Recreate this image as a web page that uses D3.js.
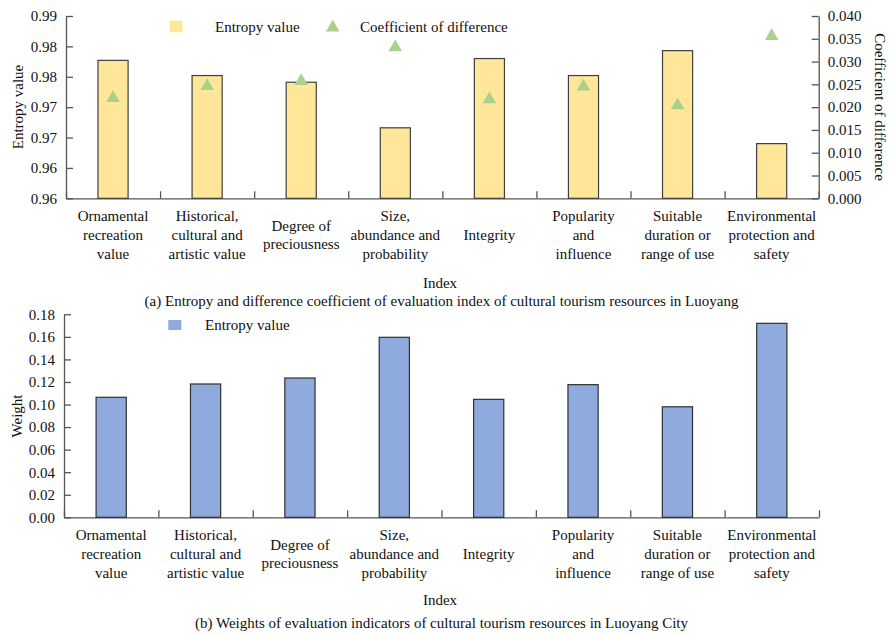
<!DOCTYPE html>
<html>
<head>
<meta charset="utf-8">
<script src="https://cdn.jsdelivr.net/npm/d3@7"></script>
<style>
  body { margin: 0; background: #fff; }
  svg { font-family: "Liberation Serif", "Times New Roman", serif; }
  .axis path, .axis line { stroke: #555; stroke-width: 1.3; }
  .axis text { font-size: 15px; fill: #111; font-family: "Liberation Serif", serif; }
  .lbl { font-size: 15px; fill: #111; }
</style>
</head>
<body>
<svg width="889" height="637"></svg>
<script>
// category labels, one array of lines per index
const categories = [
  ['Ornamental', 'recreation', 'value'],
  ['Historical,', 'cultural and', 'artistic value'],
  ['Degree of', 'preciousness'],
  ['Size,', 'abundance and', 'probability'],
  ['Integrity'],
  ['Popularity', 'and', 'influence'],
  ['Suitable', 'duration or', 'range of use'],
  ['Environmental', 'protection and', 'safety'],
];

const entropyValues = [0.9827, 0.9802, 0.9791, 0.9716, 0.9830, 0.9802, 0.9843, 0.9690];
const diffCoefficients = [0.0220, 0.0246, 0.0257, 0.0331, 0.0217, 0.0245, 0.0204, 0.0356];
const weights = [0.1064, 0.1182, 0.1235, 0.1596, 0.1046, 0.1176, 0.0980, 0.1720];

const entropyTicks = [0.96, 0.965, 0.97, 0.975, 0.98, 0.985, 0.99];
const entropyTickLabels = ['0.96', '0.96', '0.97', '0.97', '0.98', '0.98', '0.99'];
const coefTicks = [0, 0.005, 0.01, 0.015, 0.02, 0.025, 0.03, 0.035, 0.04];
const weightTicks = [0, 0.02, 0.04, 0.06, 0.08, 0.1, 0.12, 0.14, 0.16, 0.18];

const svg = d3.select('svg');
const n = categories.length;

function xAxes(g, left, right, bottom, labelMid) {
  const xBand = d3.scaleBand()
      .domain(d3.range(n))
      .range([left, right])
      .paddingInner(0.68)
      .paddingOuter(0.34);
  const xEdge = d3.scaleLinear().domain([0, n]).range([left, right]);

  g.append('g')
      .attr('class', 'axis')
      .attr('transform', `translate(0,${bottom})`)
      .call(d3.axisBottom(xEdge).tickValues(d3.range(n + 1))
          .tickSizeInner(-7).tickSizeOuter(0).tickFormat(''));

  const labels = g.append('g').selectAll('text')
      .data(categories)
      .enter().append('text')
      .attr('class', 'lbl')
      .attr('text-anchor', 'middle');
  labels.each(function(lines, i) {
    const cx = xBand(i) + xBand.bandwidth() / 2;
    d3.select(this).selectAll('tspan')
        .data(lines)
        .enter().append('tspan')
        .attr('x', cx)
        .attr('y', function(d, j) {
          return labelMid + (j - (lines.length - 1) / 2) * 18.7;
        })
        .text(function(d) {
          return d;
        });
  });
  return xBand;
}

// ---- (a) entropy + coefficient of difference ----
const panelA = svg.append('g');
const aL = 66; const aR = 818.7; const aT = 16; const aB = 198.3;

const yEntropy = d3.scaleLinear().domain([0.96, 0.99]).range([aB, aT]);
const yCoef = d3.scaleLinear().domain([0, 0.04]).range([aB, aT]);

const xa = xAxes(panelA, aL, aR, aB, 240);

panelA.selectAll('.bar')
    .data(entropyValues)
    .enter().append('rect')
    .attr('class', 'bar')
    .attr('x', function(d, i) {
      return xa(i);
    })
    .attr('width', xa.bandwidth())
    .attr('y', function(d) {
      return yEntropy(d);
    })
    .attr('height', function(d) {
      return aB - yEntropy(d);
    })
    .attr('fill', '#FFE699')
    .attr('stroke', '#404040')
    .attr('stroke-width', 1.2);

panelA.selectAll('.tri')
    .data(diffCoefficients)
    .enter().append('path')
    .attr('class', 'tri')
    .attr('d', d3.symbol(d3.symbolTriangle, 80))
    .attr('transform', function(d, i) {
      return `translate(${xa(i) + xa.bandwidth() / 2},${yCoef(d)})`;
    })
    .attr('fill', '#A9D18E');

panelA.append('g')
    .attr('class', 'axis')
    .attr('transform', `translate(${aL},0)`)
    .call(d3.axisLeft(yEntropy).tickValues(entropyTicks)
        .tickFormat(function(d, i) {
          return entropyTickLabels[i];
        })
        .tickSizeInner(-7).tickSizeOuter(0).tickPadding(9));

panelA.append('g')
    .attr('class', 'axis')
    .attr('transform', `translate(${aR},0)`)
    .call(d3.axisRight(yCoef).tickValues(coefTicks)
        .tickFormat(d3.format('.3f'))
        .tickSizeInner(-7).tickSizeOuter(0).tickPadding(9));

panelA.append('text').attr('class', 'lbl')
    .attr('transform', 'translate(23,107) rotate(-90)')
    .attr('text-anchor', 'middle')
    .text('Entropy value');
panelA.append('text').attr('class', 'lbl')
    .attr('transform', 'translate(875,107) rotate(90)')
    .attr('text-anchor', 'middle')
    .text('Coefficient of difference');

// legend
panelA.append('rect').attr('x', 169.5).attr('y', 20.7)
    .attr('width', 13).attr('height', 11.6).attr('fill', '#FFE699');
panelA.append('text').attr('class', 'lbl').attr('x', 215).attr('y', 32)
    .text('Entropy value');
panelA.append('path')
    .attr('d', d3.symbol(d3.symbolTriangle, 80))
    .attr('transform', 'translate(332.7,27.5)')
    .attr('fill', '#A9D18E');
panelA.append('text').attr('class', 'lbl').attr('x', 360).attr('y', 32)
    .text('Coefficient of difference');

panelA.append('text').attr('class', 'lbl')
    .attr('x', 440).attr('y', 288).attr('text-anchor', 'middle')
    .text('Index');
panelA.append('text').attr('class', 'lbl')
    .attr('x', 441.5).attr('y', 306).attr('text-anchor', 'middle')
    .text('(a) Entropy and difference coefficient of evaluation index of cultural tourism resources in Luoyang');

// ---- (b) weights ----
const panelB = svg.append('g');
const bL = 64; const bR = 819; const bT = 314.3; const bB = 517.3;

const yWeight = d3.scaleLinear().domain([0, 0.18]).range([bB, bT]);
const xb = xAxes(panelB, bL, bR, bB, 559);

panelB.selectAll('.bar')
    .data(weights)
    .enter().append('rect')
    .attr('class', 'bar')
    .attr('x', function(d, i) {
      return xb(i);
    })
    .attr('width', xb.bandwidth())
    .attr('y', function(d) {
      return yWeight(d);
    })
    .attr('height', function(d) {
      return bB - yWeight(d);
    })
    .attr('fill', '#8FAADC')
    .attr('stroke', '#303030')
    .attr('stroke-width', 1.2);

panelB.append('g')
    .attr('class', 'axis')
    .attr('transform', `translate(${bL},0)`)
    .call(d3.axisLeft(yWeight).tickValues(weightTicks)
        .tickFormat(d3.format('.2f'))
        .tickSizeInner(-7).tickSizeOuter(0).tickPadding(9));

panelB.append('text').attr('class', 'lbl')
    .attr('transform', 'translate(22,416) rotate(-90)')
    .attr('text-anchor', 'middle')
    .text('Weight');

panelB.append('rect').attr('x', 168.3).attr('y', 320)
    .attr('width', 13).attr('height', 10).attr('fill', '#8FAADC');
panelB.append('text').attr('class', 'lbl').attr('x', 205).attr('y', 330)
    .text('Entropy value');

panelB.append('text').attr('class', 'lbl')
    .attr('x', 440).attr('y', 605).attr('text-anchor', 'middle')
    .text('Index');
panelB.append('text').attr('class', 'lbl')
    .attr('x', 441.5).attr('y', 628).attr('text-anchor', 'middle')
    .text('(b) Weights of evaluation indicators of cultural tourism resources in Luoyang City');
</script>
</body>
</html>
